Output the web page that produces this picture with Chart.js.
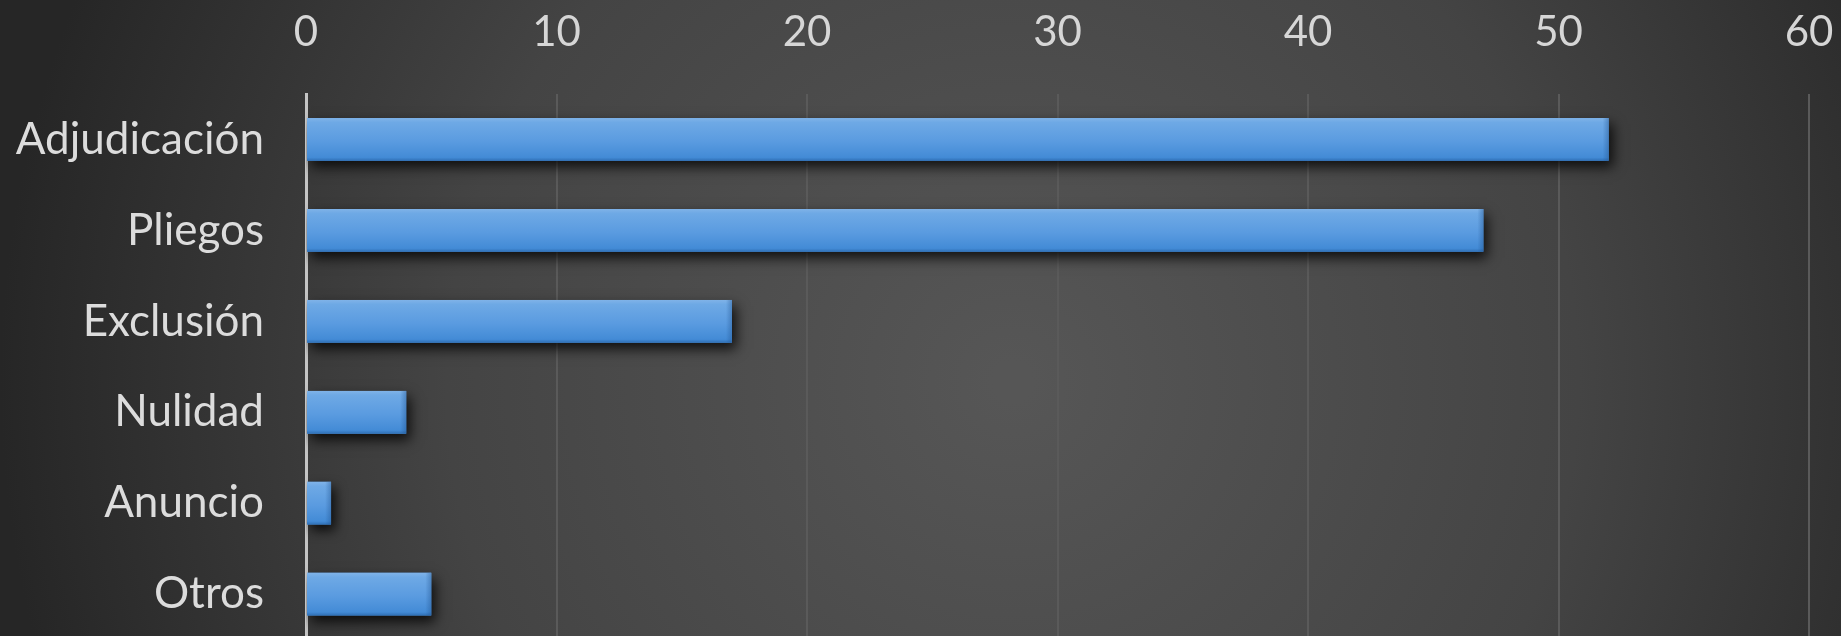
<!DOCTYPE html>
<html>
<head>
<meta charset="utf-8">
<script src="https://cdn.jsdelivr.net/npm/chart.js@4"></script>
<style>
    html, body {margin: 0; padding: 0; overflow: hidden; height: 636px; background: #3a3a3a;}
    #wrap {width: 1841px; height: 700px; position: relative;}
</style>
</head>
<body>
<div id="wrap"><canvas id="myChart"></canvas></div>
<script>
const categories = ['Adjudicación', 'Pliegos', 'Exclusión', 'Nulidad', 'Anuncio', 'Otros']
const values = [52, 47, 17, 4, 1, 5]
const tickValues = [0, 10, 20, 30, 40, 50, 60]

const FONT = "Lato, 'Open Sans', sans-serif"

// dark radial background, lighter in the middle
const bgPlugin = {
    id: 'bg',
    beforeDraw: (chart) => {
        const ctx = chart.ctx
        const w = chart.width, h = 636
        const g = ctx.createRadialGradient(w * 0.55, h * 0.6, 20, w * 0.55, h * 0.6, w * 0.55)
        g.addColorStop(0, '#565656')
        g.addColorStop(0.55, '#444444')
        g.addColorStop(1, '#262626')
        ctx.save()
        ctx.fillStyle = g
        ctx.fillRect(0, 0, w, chart.height)
        ctx.restore()
    }
}

// soft shadow under the bars, then a vertical sheen over each bar
const barLookPlugin = {
    id: 'barLook',
    beforeDatasetDraw: (chart) => {
        const ctx = chart.ctx
        ctx.save()
        ctx.shadowColor = 'rgba(0,0,0,0.8)'
        ctx.shadowBlur = 12
        ctx.shadowOffsetX = 4
        ctx.shadowOffsetY = 6
    },
    afterDatasetDraw: (chart) => {
        const ctx = chart.ctx
        ctx.restore()
        const meta = chart.getDatasetMeta(0)
        ctx.save()
        meta.data.forEach((bar) => {
            const p = bar.getProps(['x', 'y', 'base', 'height'], true)
            const top = p.y - p.height / 2
            const left = Math.min(p.base, p.x)
            const w = Math.abs(p.x - p.base)
            const g = ctx.createLinearGradient(0, top, 0, top + p.height)
            g.addColorStop(0, '#80b3e8')
            g.addColorStop(0.1, '#6ea9e5')
            g.addColorStop(0.55, '#5a9be0')
            g.addColorStop(0.92, '#438bd6')
            g.addColorStop(1, '#2f6fb5')
            ctx.fillStyle = g
            ctx.fillRect(left, top, w, p.height)
            // slightly darker right end
            const ge = ctx.createLinearGradient(left + w - 6, 0, left + w, 0)
            ge.addColorStop(0, 'rgba(30,80,140,0)')
            ge.addColorStop(1, 'rgba(30,80,140,0.4)')
            ctx.fillStyle = ge
            ctx.fillRect(left + w - 6, top, 6, p.height)
        })
        ctx.restore()
    }
}

var ctx = document.getElementById('myChart').getContext('2d')
var chart = new Chart(ctx, {
    type: 'bar',
    data: {
        labels: categories,
        datasets: [{
            data: values,
            backgroundColor: '#5598de',
            borderWidth: 0,
            barPercentage: 0.47,
            categoryPercentage: 1
        }]
    },
    plugins: [bgPlugin, barLookPlugin],
    options: {
        indexAxis: 'y',
        responsive: true,
        maintainAspectRatio: false,
        animation: false,
        layout: {padding: {left: 0, right: 32, top: 0, bottom: 0}},
        plugins: {
            legend: {display: false},
            tooltip: {enabled: false}
        },
        scales: {
            x: {
                position: 'top',
                min: 0,
                max: 60,
                afterBuildTicks: (scale) => {
                    scale.ticks = tickValues.map(v => ({value: v}))
                },
                afterFit: (scale) => {
                    scale.height = 94
                    scale.paddingLeft = 0
                    scale.paddingRight = 0
                },
                grid: {color: '#5a5a5a', lineWidth: 2, drawTicks: false},
                border: {display: false},
                ticks: {
                    color: '#d6d6d6',
                    padding: 36,
                    font: {family: FONT, size: 42}
                }
            },
            y: {
                afterFit: (scale) => { scale.width = 306 },
                grid: {display: false},
                border: {display: true, color: '#c4c4c4', width: 3},
                ticks: {
                    color: '#dcdcdc',
                    padding: 34,
                    font: {family: FONT, size: 44}
                }
            }
        }
    }
})
</script>
</body>
</html>
